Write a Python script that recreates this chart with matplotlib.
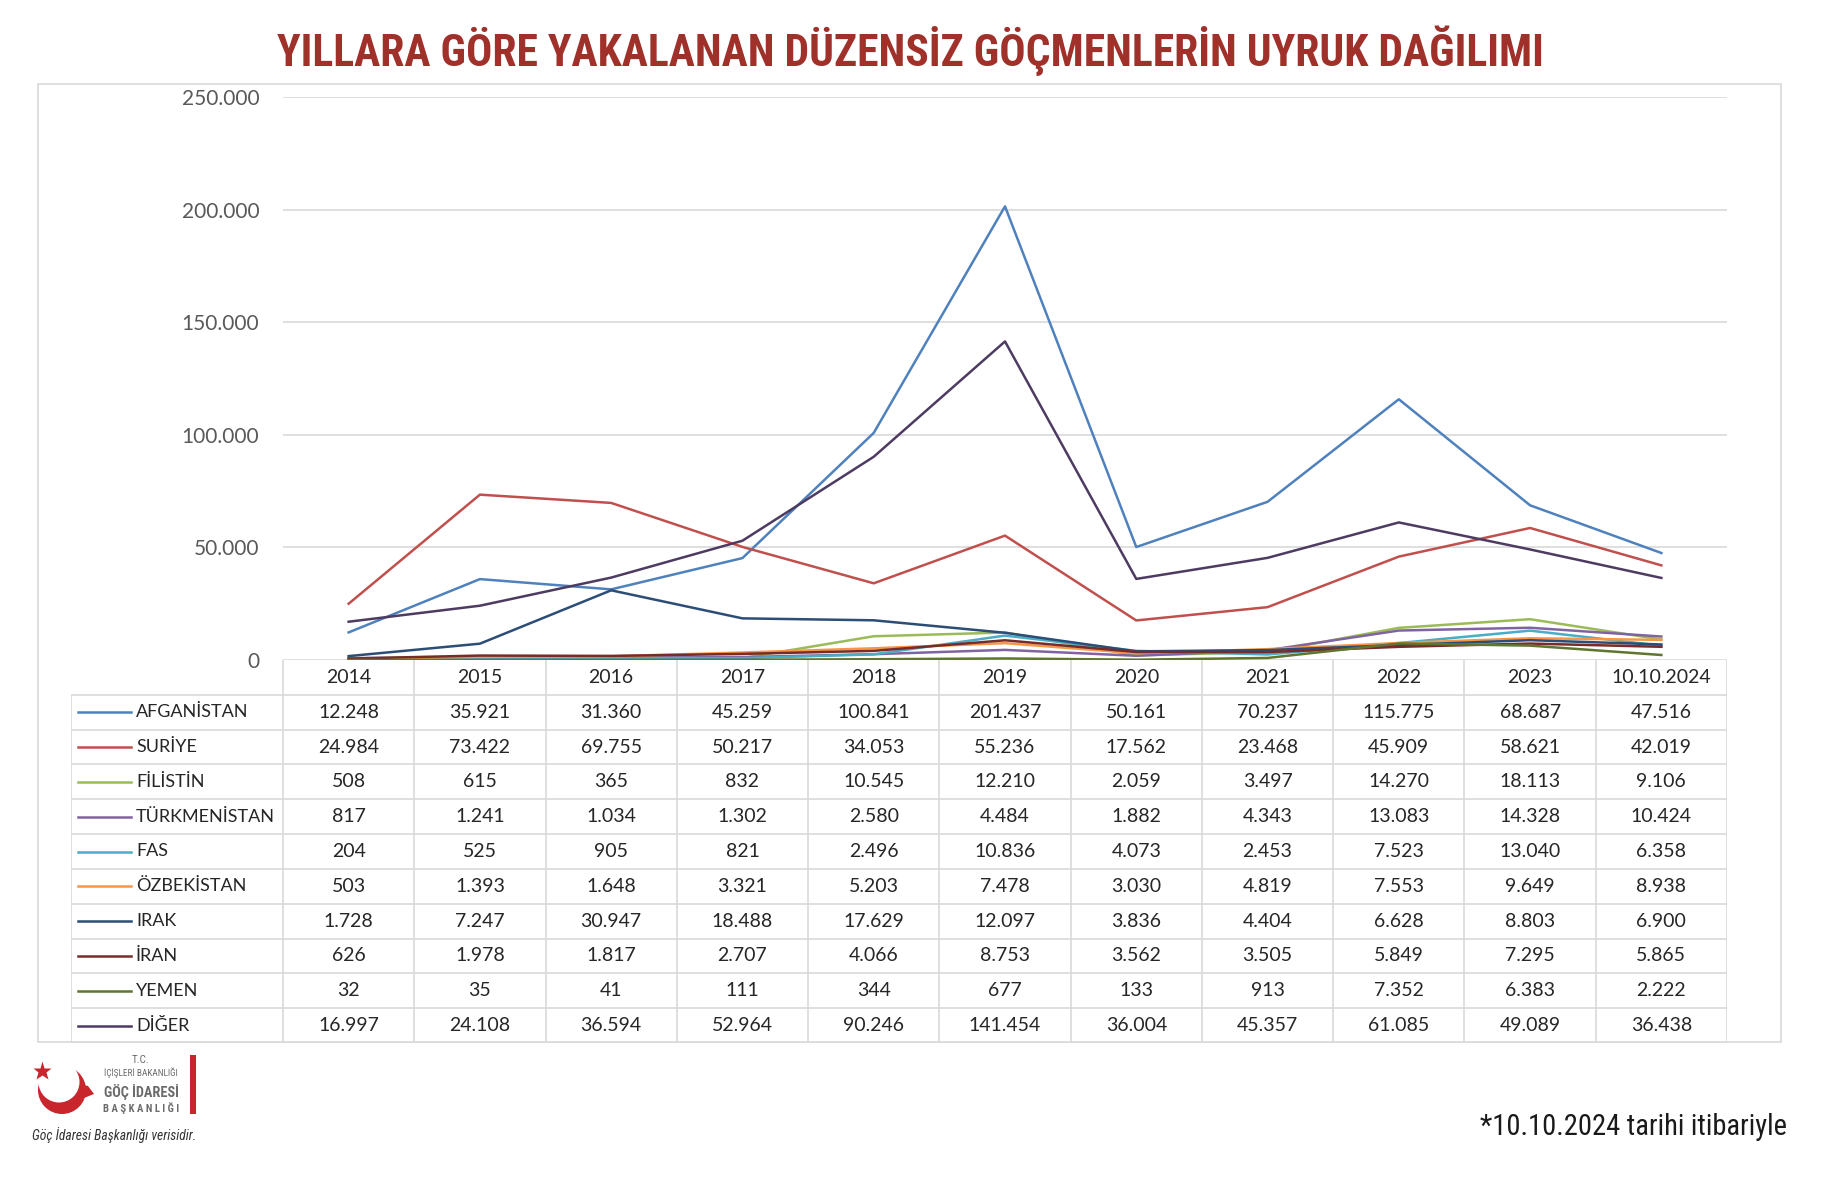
import matplotlib
matplotlib.use('Agg')
import matplotlib.pyplot as plt
import numpy as np
from matplotlib.ticker import FuncFormatter, MultipleLocator
from matplotlib.patches import Rectangle, Circle, Polygon

# Veriler (tablodan okundu)
yillar = ['2014', '2015', '2016', '2017', '2018', '2019', '2020', '2021', '2022', '2023', '10.10.2024']
uyruklar = ['AFGANİSTAN', 'SURİYE', 'FİLİSTİN', 'TÜRKMENİSTAN', 'FAS', 'ÖZBEKİSTAN',
            'IRAK', 'İRAN', 'YEMEN', 'DİĞER']
afganistan = [12248, 35921, 31360, 45259, 100841, 201437, 50161, 70237, 115775, 68687, 47516]
suriye = [24984, 73422, 69755, 50217, 34053, 55236, 17562, 23468, 45909, 58621, 42019]
filistin = [508, 615, 365, 832, 10545, 12210, 2059, 3497, 14270, 18113, 9106]
turkmenistan = [817, 1241, 1034, 1302, 2580, 4484, 1882, 4343, 13083, 14328, 10424]
fas = [204, 525, 905, 821, 2496, 10836, 4073, 2453, 7523, 13040, 6358]
ozbekistan = [503, 1393, 1648, 3321, 5203, 7478, 3030, 4819, 7553, 9649, 8938]
irak = [1728, 7247, 30947, 18488, 17629, 12097, 3836, 4404, 6628, 8803, 6900]
iran = [626, 1978, 1817, 2707, 4066, 8753, 3562, 3505, 5849, 7295, 5865]
yemen = [32, 35, 41, 111, 344, 677, 133, 913, 7352, 6383, 2222]
diger = [16997, 24108, 36594, 52964, 90246, 141454, 36004, 45357, 61085, 49089, 36438]
seriler = [afganistan, suriye, filistin, turkmenistan, fas, ozbekistan, irak, iran, yemen, diger]

renkler = ['#4F81BD', '#C0504D', '#9BBB59', '#8064A2', '#4BACC6', '#F79646',
           '#2C4D75', '#772C2A', '#5F7530', '#4D3B62']

plt.rcParams['font.family'] = ['Lato', 'DejaVu Sans']
DAR = ['Roboto Condensed', 'DejaVu Sans Condensed', 'Liberation Sans Narrow', 'DejaVu Sans']

W, H = 1824, 1182
fig = plt.figure(figsize=(W / 100, H / 100), dpi=100)


def kutu(x0, y0, x1, y1):
    # piksel (sol-ust orijinli) -> figur orani
    return [x0 / W, 1 - y1 / H, (x1 - x0) / W, (y1 - y0) / H]


def binlik(v):
    return f"{int(round(v)):,}".replace(',', '.')


GRAFIK_SOL, GRAFIK_SAG = 283, 1727
UST, SIFIR = 97, 660
TABLO_SOL, TABLO_ALT = 71, 1043
n = len(yillar)

# Grafik cercevesi
fig.add_artist(Rectangle((38 / W, 1 - 1042 / H), (1781 - 38) / W, (1042 - 84) / H,
                         transform=fig.transFigure, fill=False, ec='#D9D9D9', lw=1.2))

# Cizgi grafik
ax = fig.add_axes(kutu(GRAFIK_SOL, UST, GRAFIK_SAG, SIFIR))
x = np.arange(n)
for deger, renk in zip(seriler, renkler):
    ax.plot(x, deger, color=renk, lw=1.8, solid_joinstyle='round')
ax.set_xlim(-0.5, n - 0.5)
ax.set_ylim(0, 250000)
ax.yaxis.set_major_locator(MultipleLocator(50000))
ax.yaxis.set_major_formatter(FuncFormatter(lambda v, p: binlik(v)))
ax.grid(axis='y', color='#D9D9D9', lw=1.2)
ax.set_axisbelow(True)
for s in ax.spines.values():
    s.set_visible(False)
ax.set_xticks([])
ax.tick_params(axis='y', length=0, pad=17, labelsize=15, labelcolor='#595959')
ax.patch.set_alpha(0)

# Veri tablosu
kolon_px = (GRAFIK_SAG - GRAFIK_SOL) / n
lejant_gen = (GRAFIK_SOL - TABLO_SOL) / kolon_px
satir = len(uyruklar) + 1
tx = fig.add_axes(kutu(TABLO_SOL, SIFIR, GRAFIK_SAG, TABLO_ALT))
tx.set_xlim(-0.5 - lejant_gen, n - 0.5)
tx.set_ylim(satir, 0)
tx.axis('off')
cizgi = dict(color='#D9D9D9', lw=1.2)
sol = -0.5 - lejant_gen
tx.hlines(np.arange(1, satir + 1), sol, n - 0.5, **cizgi)
tx.vlines(np.arange(n + 1) - 0.5, 0, satir, **cizgi)
tx.vlines(sol, 1, satir, **cizgi)
yazi = dict(ha='center', va='center', fontsize=14, color='#262626')
for i, y in enumerate(yillar):
    tx.text(i, 0.5, y, **yazi)
for r, (ad, deger, renk) in enumerate(zip(uyruklar, seriler, renkler)):
    yc = r + 1.5
    tx.plot([sol + 7 / kolon_px, sol + 60 / kolon_px], [yc, yc], color=renk, lw=1.8)
    tx.text(sol + 65 / kolon_px, yc, ad, ha='left', va='center', fontsize=13, color='#262626')
    for i, v in enumerate(deger):
        tx.text(i, yc, binlik(v), **yazi)

# Baslik ve dipnot
baslik = fig.text(910 / W, 1 - 51 / H, 'YILLARA GÖRE YAKALANAN DÜZENSİZ GÖÇMENLERİN UYRUK DAĞILIMI',
                  ha='center', va='center', fontsize=36, fontweight='bold',
                  fontstretch='condensed', color='#A0302A', family=DAR)
dipnot = fig.text(1787 / W, 1 - 1127 / H, '*10.10.2024 tarihi itibariyle',
                  ha='right', va='center', fontsize=22, fontstretch='condensed',
                  color='#1a1a1a', family=DAR)

# Logo
lx = fig.add_axes(kutu(28, 1055, 100, 1120))
lx.set_xlim(28, 100)
lx.set_ylim(1120, 1055)
lx.set_aspect('equal')
lx.axis('off')
lx.add_patch(Circle((62, 1090), 24, color='#C8262C', lw=0))
lx.add_patch(Circle((59, 1082), 20.5, color='white', lw=0))
lx.add_patch(Polygon([(80, 1084), (88, 1086), (94, 1094), (84, 1098)], color='#C8262C', lw=0))
lx.plot([42], [1071], marker='*', ms=14, color='#C8262C', mec='none')

gri = '#6B6B6B'
logo_tc = fig.text(141 / W, 1 - 1060 / H, 'T.C.', ha='center', va='center', fontsize=7,
                   color=gri, family=DAR, fontstretch='condensed')
logo_1 = fig.text(141 / W, 1 - 1073 / H, 'İÇİŞLERİ BAKANLIĞI', ha='center', va='center',
                  fontsize=8, color=gri, family=DAR, fontstretch='condensed')
logo_2 = fig.text(141 / W, 1 - 1092 / H, 'GÖÇ İDARESİ', ha='center', va='center', fontsize=13,
                  fontweight='bold', color=gri, family=DAR, fontstretch='condensed')
logo_3 = fig.text(141 / W, 1 - 1108 / H, 'B A Ş K A N L I Ğ I', ha='center', va='center',
                  fontsize=8, fontweight='bold', color=gri, family=DAR, fontstretch='condensed')
fig.add_artist(Rectangle((190 / W, 1 - 1114 / H), 6 / W, 59 / H, transform=fig.transFigure,
                         color='#C8262C', lw=0))
kaynak = fig.text(32 / W, 1 - 1135 / H, 'Göç İdaresi Başkanlığı verisidir.', ha='left',
                  va='center', fontsize=11, style='italic', color='#333333', family=DAR,
                  fontstretch='condensed')

# Yazilari hedef genislige oturt
renderer = fig.canvas.get_renderer()
for t, hedef in [(baslik, 1266), (dipnot, 307), (logo_tc, 18), (logo_1, 74),
                 (logo_2, 75), (logo_3, 76), (kaynak, 165)]:
    gen = t.get_window_extent(renderer).width
    t.set_fontsize(t.get_fontsize() * hedef / gen)

fig.savefig('out.png', dpi=100, facecolor='white')
